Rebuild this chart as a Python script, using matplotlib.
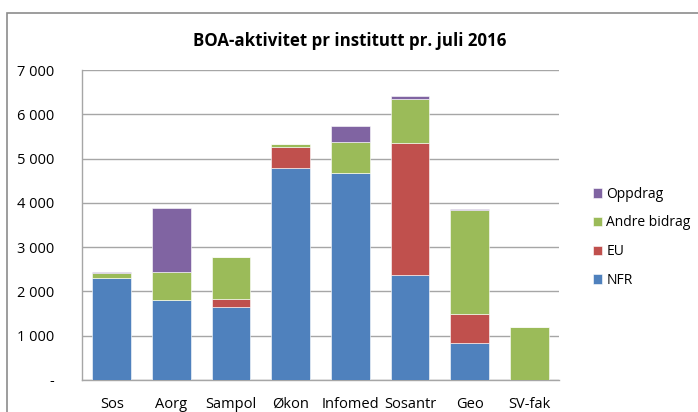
import matplotlib.pyplot as plt
import numpy as np
from matplotlib.patches import Rectangle
from matplotlib.ticker import FuncFormatter

plt.rcParams['font.family'] = ['Open Sans', 'DejaVu Sans']

institutter = ['Sos', 'Aorg', 'Sampol', 'Økon', 'Infomed', 'Sosantr', 'Geo', 'SV-fak']
nfr = [2300, 1810, 1640, 4780, 4670, 2370, 840, 0]
eu = [0, 0, 190, 490, 0, 2990, 650, 0]
andre = [110, 620, 940, 60, 700, 980, 2340, 1190]
oppdrag = [30, 1450, 0, 0, 370, 80, 40, 0]

serier = [('NFR', nfr, '#4f81bd'), ('EU', eu, '#c0504d'),
          ('Andre bidrag', andre, '#9bbb59'), ('Oppdrag', oppdrag, '#8064a2')]

fig = plt.figure(figsize=(6.98, 4.12), dpi=100)
W, H = 698, 412
ax = fig.add_axes([82 / W, 1 - 380 / H, (559 - 82) / W, (380 - 70) / H])

# outer chart border
fig.patches.append(Rectangle((7 / W, -0.05), 1.05, 1 - 13 / H + 0.05,
                             transform=fig.transFigure, fill=False,
                             edgecolor='#8c8c8c', linewidth=1.2))

x = np.arange(len(institutter))
bunn = np.zeros(len(institutter))
handles = []
for navn, verdier, farge in serier:
    b = ax.bar(x, verdier, width=0.65, bottom=bunn, color=farge,
               edgecolor='white', linewidth=0.4, label=navn, zorder=3)
    handles.append(b)
    bunn = bunn + np.array(verdier)

ax.set_xlim(-0.5, len(institutter) - 0.5)
ax.set_ylim(0, 7000)
ax.set_yticks(range(0, 7001, 1000))
ax.yaxis.set_major_formatter(FuncFormatter(
    lambda v, p: '-' if v == 0 else f'{int(v):,}'.replace(',', ' ')))
ax.set_xticks(x)
ax.set_xticklabels(institutter)
ax.tick_params(axis='y', length=0, pad=20, labelsize=10.5)
ax.tick_params(axis='x', length=0, pad=12, labelsize=10.5)
ax.grid(axis='y', color='#a6a6a6', linewidth=1, zorder=0)
for s in ['top', 'right']:
    ax.spines[s].set_visible(False)
for s in ['left', 'bottom']:
    ax.spines[s].set_color('#a6a6a6')
    ax.spines[s].set_linewidth(1)

fig.text(350 / W, 1 - 41 / H, 'BOA-aktivitet pr institutt pr. juli 2016',
         ha='center', va='center', fontsize=12.2, fontweight='bold')

fig.legend(handles[::-1], [s[0] for s in serier][::-1],
           loc='upper left', bbox_to_anchor=(580 / W, 1 - 174 / H),
           frameon=False, fontsize=10, handlelength=0.7, handleheight=0.7,
           handletextpad=0.3, labelspacing=1.0)

fig.savefig('out.png', dpi=100)
